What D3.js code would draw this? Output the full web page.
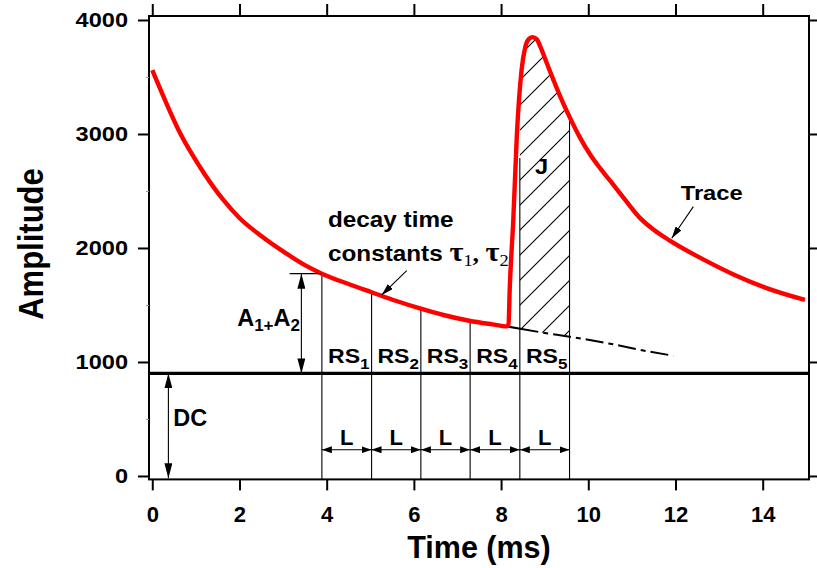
<!DOCTYPE html>
<html><head><meta charset="utf-8">
<script src="https://cdn.jsdelivr.net/npm/d3@7"></script>
<style>
body{margin:0;background:#fff}
svg{display:block}
text{font-family:"Liberation Sans",Arial,Helvetica,sans-serif;font-weight:bold;fill:#000}
</style>
</head><body>
<svg id="c" width="817" height="568"></svg>
<script>
// ---- data ----
const traceT = [0.0, 0.3, 0.64, 1.09, 1.63, 2.0, 2.5, 3.0, 3.5, 3.89, 4.53, 5.03, 5.6, 6.14, 6.7, 7.27, 7.8, 8.13, 8.17, 8.2, 8.28, 8.36, 8.47, 8.55, 8.62, 8.72, 8.82, 8.9, 9.05, 9.2, 9.35, 9.57, 9.81, 10.05, 10.27, 10.5, 10.85, 11.19, 11.5, 11.87, 12.56, 13.33, 14.09, 14.97];
const traceV = [3560, 3290, 3006, 2713, 2421, 2263, 2105, 1970, 1850, 1775, 1680, 1612, 1535, 1470, 1410, 1362, 1330, 1312, 1330, 1660, 2246, 2977, 3561, 3754, 3825, 3850, 3830, 3766, 3620, 3475, 3335, 3150, 2968, 2815, 2700, 2590, 2420, 2262, 2160, 2065, 1915, 1768, 1648, 1544];
const baseT = [8.13, 9.0, 9.57, 10.5, 11.41, 11.95];
const baseV = [1312, 1255, 1222, 1160, 1090, 1055];
const boundaryT = [3.89, 5.03, 6.16, 7.29, 8.43, 9.57];
const boundaryTop = [1775, 1612, 1468, 1361, 2790, 3150];
const rsSubs = ["1", "2", "3", "4", "5"];
const dcLevel = 900;
const a1a2Top = 1775;
const xTicks = [0, 2, 4, 6, 8, 10, 12, 14];
const yTicks = [0, 1000, 2000, 3000, 4000];
const yMinor = [500, 1500, 2500, 3500];

// ---- scales ----
const svg = d3.select("#c");
const x = d3.scaleLinear().domain([-0.075, 15.062]).range([149, 809]);
const y = d3.scaleLinear().domain([-30, 4035]).range([479.4, 16]);
const X0 = 149, X1 = 809, Y0 = 16, Y1 = 479.4;

// ---- defs ----
const defs = svg.append("defs");
function marker(id, len, wid) {
  defs.append("marker").attr("id", id)
    .attr("viewBox", `0 0 ${len} ${wid}`)
    .attr("refX", len).attr("refY", wid / 2)
    .attr("markerWidth", len).attr("markerHeight", wid)
    .attr("markerUnits", "userSpaceOnUse")
    .attr("orient", "auto-start-reverse")
    .append("path").attr("d", `M0,0L${len},${wid / 2}L0,${wid}Z`).attr("fill", "#000");
}
marker("big", 15, 8);
marker("small", 10, 7);
marker("mid", 12, 7);

const pat = defs.append("pattern").attr("id", "hatch")
  .attr("patternUnits", "userSpaceOnUse").attr("width", 25).attr("height", 25);
pat.append("path").attr("d", "M-2,27L27,-2M-6,6L6,-6M19,31L31,19")
  .attr("stroke", "#000").attr("stroke-width", 1.1).attr("fill", "none");

defs.append("clipPath").attr("id", "hclip").append("rect")
  .attr("x", x(boundaryT[4])).attr("y", Y0)
  .attr("width", x(boundaryT[5]) - x(boundaryT[4])).attr("height", Y1 - Y0);

// ---- label helper ----
function label(px, py, parts, size, sx, anchor) {
  const t = svg.append("text")
    .attr("transform", `translate(${px},${py}) scale(${sx},1)`)
    .attr("text-anchor", anchor || "start")
    .style("font-size", size + "px");
  parts.forEach(p => {
    const s = t.append("tspan").text(p.t);
    if (p.size) s.style("font-size", p.size + "px");
    if (p.dy) s.attr("dy", p.dy);
    if (p.fam) s.style("font-family", p.fam);
    if (p.w) s.style("font-weight", p.w);
  });
  return t;
}

// ---- hatched area J ----
const traceLine = d3.line().x(d => x(d[0])).y(d => y(d[1])).curve(d3.curveMonotoneX);
const traceData = traceT.map((t, i) => [t, traceV[i]]);
const seg = traceData.filter(d => d[0] >= 8.13 && d[0] <= 9.81);
const baseData = baseT.map((t, i) => [t, baseV[i]]);
const baseRev = baseData.filter(d => d[0] <= 10.5).slice().reverse();
const hatchPath = traceLine(seg) + baseRev.map(d => `L${x(d[0])},${y(d[1])}`).join("") + "Z";
svg.append("path").attr("d", hatchPath).attr("fill", "url(#hatch)")
  .attr("stroke", "none").attr("clip-path", "url(#hclip)");

// ---- boundary verticals ----
svg.append("g").selectAll("line").data(boundaryT).join("line")
  .attr("x1", d => x(d)).attr("x2", d => x(d))
  .attr("y1", Y1).attr("y2", (d, i) => y(boundaryTop[i]))
  .attr("stroke", "#000").attr("stroke-width", 1.1);

// ---- DC baseline ----
svg.append("line").attr("x1", X0).attr("x2", X1)
  .attr("y1", y(dcLevel)).attr("y2", y(dcLevel))
  .attr("stroke", "#000").attr("stroke-width", 3.2);

// ---- extrapolated baseline (dash-dot) ----
svg.append("path").attr("d", traceLine(baseData)).attr("fill", "none")
  .attr("stroke", "#000").attr("stroke-width", 2)
  .attr("stroke-dasharray", "32,5,5,5,18,5,5,5,18,5,5,5,18,5,5,5,18,5,5,5,18,5,5,5,18,5,5,5");

// ---- trace ----
svg.append("path").attr("d", traceLine(traceData)).attr("fill", "none")
  .attr("stroke", "#ff0000").attr("stroke-width", 4.4).attr("stroke-linejoin", "round");

// ---- axes / frame ----
svg.append("rect").attr("x", X0).attr("y", Y0).attr("width", X1 - X0).attr("height", Y1 - Y0)
  .attr("fill", "none").attr("stroke", "#000").attr("stroke-width", 2);

const gl = svg.append("g").attr("transform", `translate(${X0},0)`)
  .call(d3.axisLeft(y).tickValues(yTicks).tickSize(11).tickPadding(0).tickFormat(d3.format("d")));
const gb = svg.append("g").attr("transform", `translate(0,${Y1})`)
  .call(d3.axisBottom(x).tickValues(xTicks).tickSize(11).tickPadding(16));
const gt = svg.append("g").attr("transform", `translate(0,${Y0})`)
  .call(d3.axisTop(x).tickValues(xTicks).tickSize(12).tickFormat(""));
const gr = svg.append("g").attr("transform", `translate(${X1},0)`)
  .call(d3.axisRight(y).tickValues(yTicks).tickSize(10).tickFormat(""));
const gm = svg.append("g").attr("transform", `translate(${X0},0)`)
  .call(d3.axisLeft(y).tickValues(yMinor).tickSize(3).tickFormat(""));
[gl, gb, gt, gr, gm].forEach(g => {
  g.select(".domain").remove();
  g.selectAll(".tick line").attr("stroke", "#000").attr("stroke-width", 2);
  g.selectAll("text").attr("font-family", null).attr("font-size", null);
});
gm.selectAll(".tick line").attr("stroke", "#999").attr("stroke-width", 1);
gl.selectAll(".tick text").attr("x", null).attr("dy", null)
  .attr("transform", "translate(-21,7) scale(1.15,1)")
  .style("font-size", "20.5px").attr("text-anchor", "end");
gb.selectAll(".tick text").style("font-size", "22px");

// ---- axis titles ----
svg.append("text").attr("x", 479).attr("y", 558).attr("text-anchor", "middle")
  .style("font-size", "30.5px").text("Time (ms)");
svg.append("text").attr("transform", "translate(43,244) rotate(-90) scale(1,1.12)")
  .attr("text-anchor", "middle").style("font-size", "31px").text("Amplitude");

// ---- annotations ----
svg.append("line").attr("x1", x(3.15)).attr("x2", x(boundaryT[0]))
  .attr("y1", y(a1a2Top)).attr("y2", y(a1a2Top)).attr("stroke", "#000").attr("stroke-width", 1.1);
svg.append("line").attr("x1", x(3.42)).attr("x2", x(3.42))
  .attr("y1", y(a1a2Top)).attr("y2", y(dcLevel)).attr("stroke", "#000").attr("stroke-width", 1.1)
  .attr("marker-start", "url(#big)").attr("marker-end", "url(#big)");
label(300, y(1318), [
  {t: "A"}, {t: "1", size: 17, dy: 5}, {t: "+", size: 17}, {t: "A", size: 23.5, dy: -5}, {t: "2", size: 17, dy: 5}
], 23.5, 1, "end");

svg.append("line").attr("x1", x(0.37)).attr("x2", x(0.37))
  .attr("y1", y(dcLevel)).attr("y2", y(-20)).attr("stroke", "#000").attr("stroke-width", 1.1)
  .attr("marker-start", "url(#big)").attr("marker-end", "url(#big)");
label(x(0.48), y(441), [{t: "DC"}], 23.5, 1, "start");

rsSubs.forEach((s, i) => {
  const a = boundaryT[i], b = boundaryT[i + 1];
  const cx = (x(a) + x(b)) / 2 + 2;
  label(cx, y(990), [{t: "RS"}, {t: s, size: 15.5, dy: 6}], 21, 1.1, "middle");
  svg.append("line").attr("x1", x(a)).attr("x2", x(b))
    .attr("y1", y(230)).attr("y2", y(230)).attr("stroke", "#000").attr("stroke-width", 1.1)
    .attr("marker-start", "url(#small)").attr("marker-end", "url(#small)");
  label((x(a) + x(b)) / 2, y(230) - 5, [{t: "L"}], 22, 1.0, "middle");
});

label(x(8.93), y(2649), [{t: "J"}], 22.5, 1.05, "middle");

const serif = "'Liberation Serif','Times New Roman',serif";
label(328, y(2184), [{t: "decay time"}], 22.5, 1.08, "start");
label(328, y(1886), [{t: "constants "},
  {t: "\u03C4", size: 28, fam: serif},
  {t: "1", size: 17, dy: 5, fam: serif, w: "normal"},
  {t: ", ", size: 24, dy: -5, fam: serif},
  {t: "\u03C4", size: 28, fam: serif},
  {t: "2", size: 17, dy: 5, fam: serif, w: "normal"}
], 22.5, 1.08, "start");
svg.append("line").attr("x1", x(5.836)).attr("y1", y(1801)).attr("x2", x(5.262)).attr("y2", y(1588))
  .attr("stroke", "#000").attr("stroke-width", 1.1).attr("marker-end", "url(#mid)");

label(680.7, y(2420), [{t: "Trace"}], 21, 1.13, "start");
svg.append("line").attr("x1", x(12.41)).attr("y1", y(2363)).attr("x2", x(11.914)).attr("y2", y(2085))
  .attr("stroke", "#000").attr("stroke-width", 1.1).attr("marker-end", "url(#mid)");
</script>
</body></html>
